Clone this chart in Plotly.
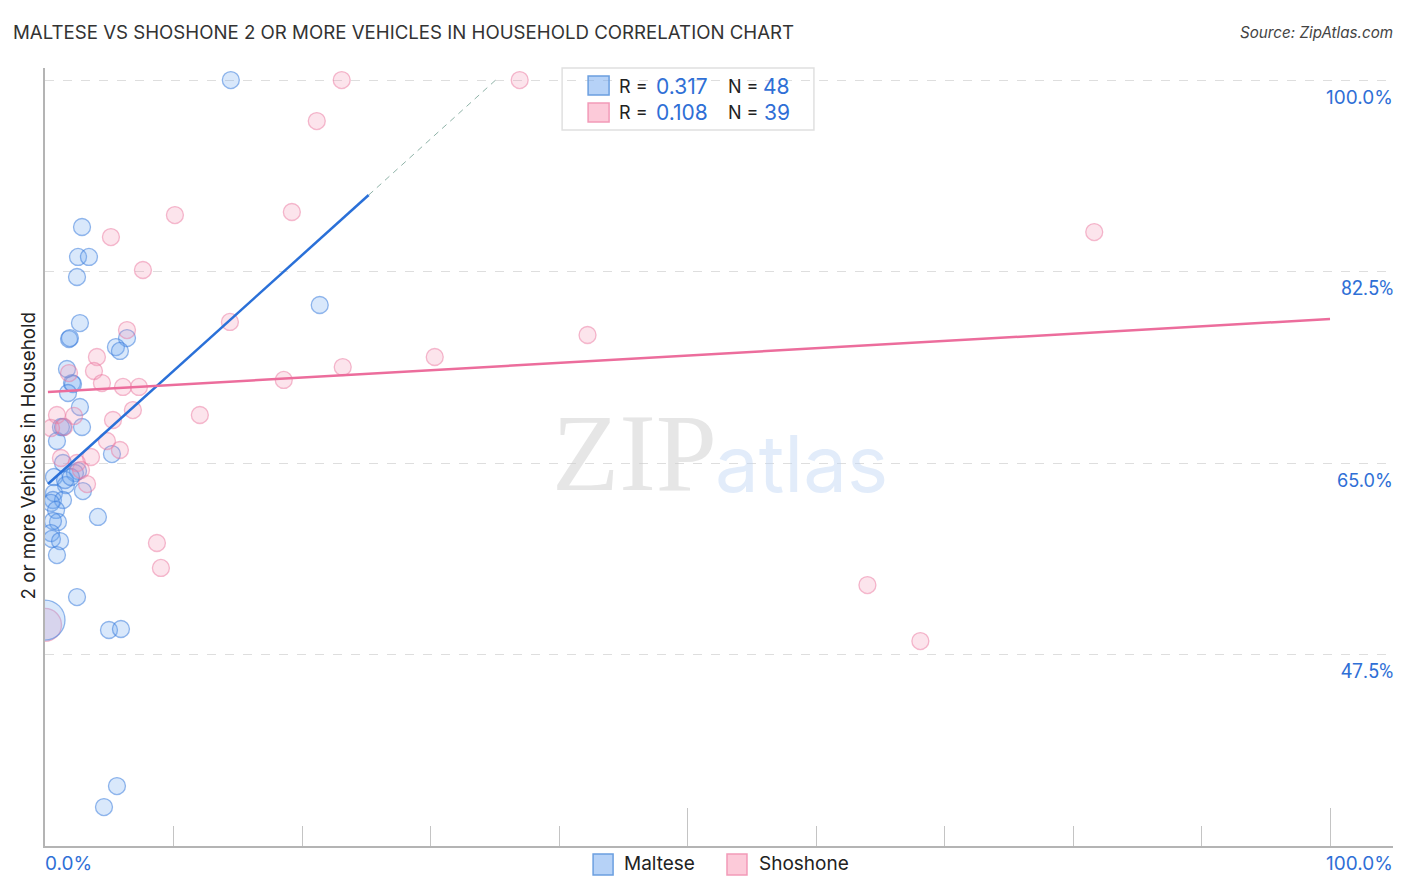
import plotly.graph_objects as go

# values, in percent
maltese_x = [14.46, 2.88, 2.57, 3.42, 2.49, 21.38, 2.72, 1.87, 1.94, 6.38, 5.52, 5.83,
             1.71, 2.10, 2.18, 1.79, 2.72, 2.88, 1.24, 1.40, 0.93, 5.21, 1.40, 2.57,
             2.33, 0.70, 1.63, 1.56, 2.02, 2.95, 0.70, 0.62, 1.40, 0.47, 0.86, 1.01,
             0.62, 4.12, 0.47, 0.54, 1.17, 0.93, 2.49, 4.98, 5.91, 5.60, 4.59]
maltese_y = [100.0, 86.57, 83.83, 83.83, 82.0, 79.44, 77.79, 76.33, 76.42, 76.42, 75.6, 75.24,
             73.59, 72.31, 72.22, 71.4, 70.12, 68.29, 68.29, 68.29, 67.01, 65.82, 65.0, 64.27,
             64.09, 63.72, 62.99, 63.45, 63.72, 62.44, 62.26, 61.62, 61.62, 61.35, 60.71, 59.61,
             59.7, 60.07, 58.6, 58.06, 57.87, 56.59, 52.75, 49.74, 49.83, 35.48, 33.56]
maltese_big_x = [0.0]
maltese_big_y = [50.65]

shoshone_x = [23.09, 36.94, 21.15, 10.11, 19.21, 5.13, 7.62, 81.65, 14.39, 42.22, 30.33, 23.17,
              18.58, 64.0, 68.12, 6.38, 4.04, 3.81, 1.87, 4.43, 6.07, 7.31, 6.84, 12.05,
              5.29, 0.93, 2.26, 1.48, 0.47, 4.82, 5.83, 1.24, 3.58, 2.49, 2.80, 3.27,
              8.71, 9.02]
shoshone_y = [100.0, 100.0, 96.25, 87.66, 87.94, 85.65, 82.64, 86.11, 77.89, 76.7, 74.69, 73.77,
              72.59, 53.85, 48.73, 77.15, 74.69, 73.41, 73.22, 72.31, 71.95, 71.95, 69.84, 69.39,
              68.93, 69.39, 69.3, 68.29, 68.2, 67.01, 66.19, 65.46, 65.55, 65.0, 64.36, 63.08,
              57.69, 55.41]
shoshone_big_x = [0.0]
shoshone_big_y = [50.2]

maltese_trend_x = [0.23, 25.19]
maltese_trend_y = [63.08, 89.49]
maltese_dash_x = [25.19, 35.07]
maltese_dash_y = [89.49, 100.0]
shoshone_trend_x = [0.23, 100.0]
shoshone_trend_y = [71.49, 78.16]

y_ticks = [100.0, 82.5, 65.0, 47.5]
y_tick_labels = ["100.0%", "82.5%", "65.0%", "47.5%"]
x_ticks = [0, 50, 100]
x_tick_labels = ["0.0%", "100.0%"]

BLUE = "#2f6fd6"
DARK = "#222222"
FONT = "Inter"
BLUE_FILL = "rgba(110,165,240,0.26)"
BLUE_EDGE = "rgba(60,125,220,0.55)"
PINK_FILL = "rgba(245,150,180,0.26)"
PINK_EDGE = "rgba(235,120,160,0.50)"


def dots(x, y, size, fill, edge):
    return go.Scatter(x=x, y=y, mode="markers", showlegend=False,
                      marker=dict(size=size, color=fill, line=dict(color=edge, width=1.3)))


fig = go.Figure()
fig.add_trace(dots(maltese_x, maltese_y, 17, BLUE_FILL, BLUE_EDGE))
fig.add_trace(dots(shoshone_x, shoshone_y, 17, PINK_FILL, PINK_EDGE))
fig.add_trace(dots(shoshone_big_x, shoshone_big_y, 33, PINK_FILL, PINK_EDGE))
fig.add_trace(dots(maltese_big_x, maltese_big_y, 40, BLUE_FILL, BLUE_EDGE))

fig.add_trace(go.Scatter(x=maltese_trend_x, y=maltese_trend_y, mode="lines", showlegend=False,
                         line=dict(color="#2a70d8", width=2.5)))
fig.add_trace(go.Scatter(x=maltese_dash_x, y=maltese_dash_y, mode="lines", showlegend=False,
                         line=dict(color="#8fb3a8", width=1, dash="6px,5px")))
fig.add_trace(go.Scatter(x=shoshone_trend_x, y=shoshone_trend_y, mode="lines", showlegend=False,
                         line=dict(color="#ec6d9c", width=2.5)))

# the page puts the figure 8px in from the top left corner
fig.update_layout(
    width=1390, height=876,
    margin=dict(l=36.5, r=4.5, t=60, b=38),
    plot_bgcolor="white", paper_bgcolor="white",
    font=dict(family=FONT, color=DARK),
)
fig.update_xaxes(range=[0, 104.9], showgrid=False, zeroline=False, showline=True,
                 linecolor="#b4b4b4", linewidth=1.5,
                 tickvals=x_ticks, ticks="inside", ticklen=38, tickcolor="#c4c4c4", tickwidth=1,
                 showticklabels=False,
                 minor=dict(dtick=10, tick0=0, ticks="inside", ticklen=20,
                            tickcolor="#c4c4c4", tickwidth=1, showgrid=False))
fig.update_yaxes(range=[30, 101.1], zeroline=False, showline=True,
                 linecolor="#b4b4b4", linewidth=1.5,
                 tickvals=y_ticks, showticklabels=False, ticks="",
                 showgrid=True, gridcolor="#dedede", griddash="dash", gridwidth=1)

notes = []
# annotations pad their text by about 2px
PAD = {"left": -2, "right": 2, "center": 0}


def note(x, y, text, size, color=DARK, anchor="left", **kw):
    notes.append(dict(x=x, y=y, xref="paper", yref="paper", text=text, showarrow=False,
                      xanchor=anchor, yanchor="middle", xshift=PAD[anchor],
                      font=dict(size=size, color=color, family=kw.pop("family", FONT)), **kw))


def px_x(p):
    return (p - 44.5) / 1349


def px_y(p):
    return (846 - p) / 778


note(px_x(12), px_y(33), "MALTESE VS SHOSHONE 2 OR MORE VEHICLES IN HOUSEHOLD CORRELATION CHART", 18.67, "#333333")
note(px_x(1393), px_y(33), "<i>Source: ZipAtlas.com</i>", 15.2, "#444444", anchor="right")
note(px_x(27), px_y(456), "2 or more Vehicles in Household", 18.8, anchor="center", textangle=-90)

# watermark
note(px_x(634), px_y(453), "ZIP", 110, "rgba(205,205,205,0.5)", anchor="center", family="Liberation Serif")
note(px_x(802), px_y(463), "atlas", 78, "rgba(190,212,245,0.45)", anchor="center")

# the right hand labels mix two digit widths in the picture
tick_fonts = {"100.0%": (FONT, 19), "82.5%": ("Roboto", 19.5), "65.0%": (FONT, 18.2), "47.5%": ("Roboto", 19.5)}
for tick, label in zip(y_ticks, y_tick_labels):
    family, size = tick_fonts[label]
    notes.append(dict(x=px_x(1393), y=tick, xref="paper", yref="y", text=label, showarrow=False,
                      xanchor="right", yanchor="middle", yshift=-17, xshift=PAD["right"],
                      font=dict(size=size, color=BLUE, family=family)))
note(px_x(44), px_y(863), x_tick_labels[0], 19, BLUE)
note(px_x(1393), px_y(863), x_tick_labels[1], 19, BLUE, anchor="right")

# top legend text
note(px_x(619), px_y(86), "R =", 18)
note(px_x(708), px_y(86), "0.317", 21, BLUE, anchor="right")
note(px_x(728), px_y(86), "N =", 18)
note(px_x(790), px_y(86), "48", 21, BLUE, anchor="right")
note(px_x(619), px_y(113), "R =", 18)
note(px_x(708), px_y(113), "0.108", 21, BLUE, anchor="right")
note(px_x(728), px_y(113), "N =", 18)
note(px_x(790), px_y(113), "39", 21, BLUE, anchor="right")

# bottom legend text
note(px_x(624), px_y(864), "Maltese", 19)
note(px_x(759), px_y(864), "Shoshone", 19)
fig.update_layout(annotations=notes)


def box(x0, y0, x1, y1, fill, edge, width=1.5):
    return dict(type="rect", xref="paper", yref="paper", layer="above",
                x0=px_x(x0), x1=px_x(x1), y0=px_y(y1), y1=px_y(y0),
                fillcolor=fill, line=dict(color=edge, width=width))


BLUE_BOX = "rgba(110,165,240,0.5)"
PINK_BOX = "rgba(250,150,180,0.5)"
fig.update_layout(shapes=[
    dict(box(562, 68, 814, 130, "white", "#e0e0e0", 1.5), layer="below"),
    box(588, 76, 609, 95, BLUE_BOX, "#6b9fe0"),
    box(588, 103, 609, 122, PINK_BOX, "#f29ab8"),
    box(593, 854, 613, 875, BLUE_BOX, "#6b9fe0"),
    box(727, 854, 747, 875, PINK_BOX, "#f29ab8"),
])

fig.write_html("out.html")
